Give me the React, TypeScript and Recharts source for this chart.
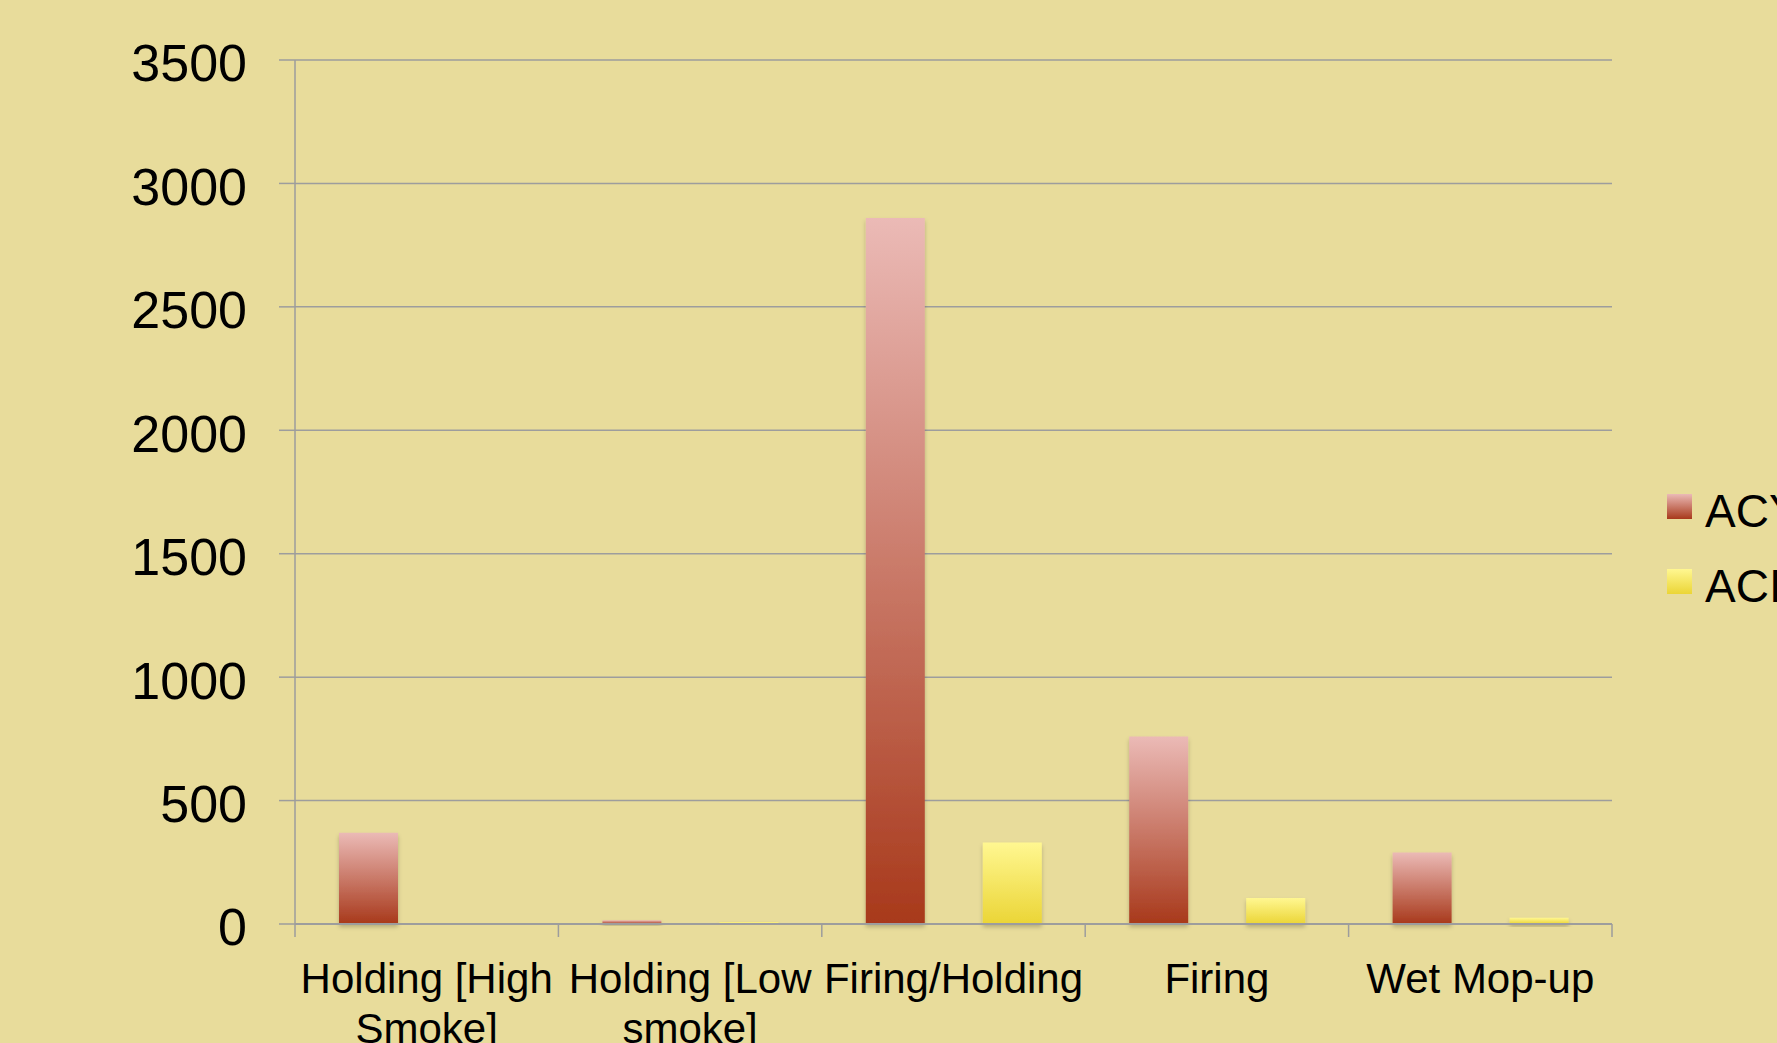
import {
  BarChart,
  Bar,
  XAxis,
  YAxis,
  CartesianGrid,
  Legend,
} from "recharts";

const categories = [
  "Holding [High Smoke]",
  "Holding [Low smoke]",
  "Firing/Holding",
  "Firing",
  "Wet Mop-up",
];
const acyValues = [370, 15, 2860, 760, 290];
const aciValues = [0, 8, 330, 105, 25];
const yTicks = [0, 500, 1000, 1500, 2000, 2500, 3000, 3500];
const seriesNames = ["ACY", "ACI"];

const data = categories.map((name, i) => ({
  name,
  acy: acyValues[i],
  aci: aciValues[i],
}));

const W = 1777;
const H = 1043;
const PLOT_LEFT = 295;
const PLOT_RIGHT = 1612;
const BAND = (PLOT_RIGHT - PLOT_LEFT) / categories.length;
const FONT = "'Liberation Sans', Arial, Helvetica, sans-serif";
const GRID = "#9d9d9d";
const CAT_FONT = 42;

// greedy word wrap measured with a canvas
function wrapLabel(label: string, maxWidth: number): string[] {
  const ctx = document.createElement("canvas").getContext("2d");
  if (!ctx) return [label];
  ctx.font = `${CAT_FONT}px ${FONT}`;
  const words = label.split(" ");
  const lines: string[] = [];
  let cur = "";
  for (const w of words) {
    const test = cur ? cur + " " + w : w;
    if (cur && ctx.measureText(test).width > maxWidth) {
      lines.push(cur);
      cur = w;
    } else {
      cur = test;
    }
  }
  if (cur) lines.push(cur);
  return lines;
}

function GradDefs({ prefix }: { prefix: string }) {
  return (
    <defs>
      <linearGradient id={`${prefix}Red`} x1="0" y1="0" x2="0" y2="1">
        <stop offset="0%" stopColor="#ebbab6" />
        <stop offset="100%" stopColor="#a8391b" />
      </linearGradient>
      <linearGradient id={`${prefix}Yel`} x1="0" y1="0" x2="0" y2="1">
        <stop offset="0%" stopColor="#fff791" />
        <stop offset="100%" stopColor="#ebd536" />
      </linearGradient>
      <filter id={`${prefix}Shadow`} x="-20%" y="-20%" width="140%" height="160%">
        <feDropShadow dx="0" dy="3" stdDeviation="2" floodColor="#000" floodOpacity="0.22" />
      </filter>
    </defs>
  );
}

// category label + boundary tick marks
function CategoryTick(props: any) {
  const { x, y, payload, index } = props;
  const left = x - BAND / 2;
  const lines = wrapLabel(String(payload.value), BAND);
  return (
    <g>
      <line x1={left} y1={y} x2={left} y2={y + 13} stroke={GRID} strokeWidth={1.5} />
      {index === categories.length - 1 && (
        <line x1={left + BAND} y1={y} x2={left + BAND} y2={y + 13} stroke={GRID} strokeWidth={1.5} />
      )}
      <text
        x={x}
        y={y + 69}
        textAnchor="middle"
        fontSize={CAT_FONT}
        fontFamily={FONT}
        fill="#000"
      >
        {lines.map((ln, i) => (
          <tspan key={i} x={x} dy={i === 0 ? 0 : 50}>
            {ln}
          </tspan>
        ))}
      </text>
    </g>
  );
}

function LegendBox() {
  const fills = ["url(#lgRed)", "url(#lgYel)"];
  return (
    <svg width={110} height={130} style={{ display: "block" }}>
      <GradDefs prefix="lg" />
      {seriesNames.map((n, i) => (
        <g key={n}>
          <rect x={0} y={12 + i * 75} width={25} height={25} fill={fills[i]} />
          <text x={38} y={45 + i * 75} fontSize={46} fontFamily={FONT} fill="#000">
            {n}
          </text>
        </g>
      ))}
    </svg>
  );
}

export default function App() {
  return (
    <div
      style={{
        position: "absolute",
        left: 0,
        top: 0,
        width: W,
        height: H,
        overflow: "hidden",
        background: "#e8dc9b",
      }}
    >
      <BarChart
        width={W}
        height={H}
        data={data}
        margin={{ top: 60, right: 55, bottom: 0, left: 0 }}
        barSize={59}
        barGap={58}
      >
        <GradDefs prefix="ch" />
        <CartesianGrid vertical={false} stroke={GRID} strokeWidth={1.5} />
        <XAxis
          dataKey="name"
          height={119}
          interval={0}
          tickLine={false}
          tickSize={0}
          tickMargin={0}
          axisLine={{ stroke: GRID, strokeWidth: 2 }}
          tick={<CategoryTick />}
        />
        <YAxis
          width={PLOT_LEFT}
          domain={[0, 3500]}
          ticks={yTicks}
          tickSize={16}
          tickMargin={32}
          tickLine={{ stroke: GRID, strokeWidth: 1.5 }}
          axisLine={{ stroke: GRID, strokeWidth: 1.5 }}
          tick={{ fill: "#000", fontSize: 52, fontFamily: FONT, dy: 3 }}
        />
        <Legend
          layout="vertical"
          align="right"
          verticalAlign="middle"
          width={110}
          height={130}
          wrapperStyle={{ left: 1667, top: 482 }}
          content={() => <LegendBox />}
        />
        <Bar
          dataKey="acy"
          name={seriesNames[0]}
          fill="url(#chRed)"
          filter="url(#chShadow)"
          isAnimationActive={false}
        />
        <Bar
          dataKey="aci"
          name={seriesNames[1]}
          fill="url(#chYel)"
          filter="url(#chShadow)"
          isAnimationActive={false}
        />
      </BarChart>
    </div>
  );
}
